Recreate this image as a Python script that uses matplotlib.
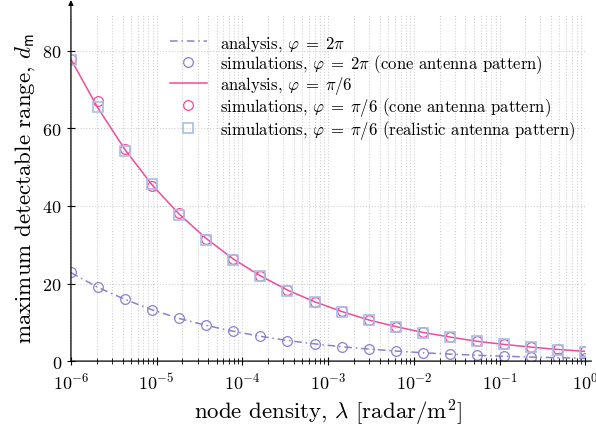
import numpy as np
import matplotlib
matplotlib.use("Agg")
import matplotlib.pyplot as plt
from matplotlib.ticker import LogLocator, NullFormatter

plt.rcParams['font.family'] = 'serif'
plt.rcParams['font.serif'] = ['cmr10', 'DejaVu Serif']
plt.rcParams['mathtext.fontset'] = 'cm'
plt.rcParams['axes.unicode_minus'] = False
plt.rcParams['axes.formatter.use_mathtext'] = True

# node density sample points
lam = [1.0e-6, 2.07e-6, 4.28e-6, 8.86e-6, 1.83e-5, 3.79e-5, 7.85e-5, 1.62e-4, 3.36e-4, 6.95e-4,
       1.44e-3, 2.98e-3, 6.16e-3, 1.27e-2, 2.64e-2, 5.46e-2, 0.113, 0.234, 0.483, 1.0]

# phi = 2pi
ana_2pi = [22.8, 19.0, 15.9, 13.2, 11.0, 9.2, 7.7, 6.4, 5.3, 4.45,
           3.7, 3.1, 2.6, 2.15, 1.8, 1.5, 1.25, 1.04, 0.87, 0.72]
sim_2pi = [22.9, 19.0, 15.9, 13.2, 11.0, 9.3, 7.7, 6.4, 5.3, 4.5,
           3.7, 3.1, 2.6, 2.2, 1.8, 1.5, 1.3, 1.05, 0.9, 0.75]

# phi = pi/6
ana_pi6 = [77.8, 65.2, 54.5, 45.4, 37.9, 31.6, 26.3, 22.0, 18.3, 15.3,
           12.8, 10.6, 8.9, 7.4, 6.2, 5.1, 4.3, 3.6, 3.0, 2.5]
sim_pi6_cone = [78.0, 67.0, 54.8, 45.2, 38.2, 31.6, 26.2, 22.0, 18.4, 15.3,
                12.8, 10.7, 8.9, 7.4, 6.2, 5.2, 4.3, 3.6, 3.0, 2.5]
sim_pi6_real = [77.5, 65.5, 54.2, 45.6, 37.6, 31.3, 26.0, 21.9, 18.2, 15.2,
                12.7, 10.6, 8.8, 7.3, 6.1, 5.1, 4.3, 3.6, 2.9, 2.4]

c_blue = '#8a82cc'
c_pink = '#ee4c9c'
c_sq = '#a9bfe8'

fig = plt.figure(figsize=(5.96, 4.27), dpi=100)
ax = fig.add_axes([0.119, 0.152, 0.863, 0.813])

ax.plot(lam, ana_2pi, color=c_blue, lw=1.1, ls=(0, (5, 2.5, 1, 2.5)),
        label=r'analysis, $\varphi\;=\;2\pi$')
ax.plot(lam, sim_2pi, ls='none', marker='o', ms=7, mfc='none', mec=c_blue, mew=0.9,
        label=r'simulations, $\varphi\;=\;2\pi$ (cone antenna pattern)')
ax.plot(lam, ana_pi6, color=c_pink, lw=1.1,
        label=r'analysis, $\varphi\;=\;\pi/6$')
ax.plot(lam, sim_pi6_cone, ls='none', marker='o', ms=7, mfc='none', mec=c_pink, mew=0.9,
        label=r'simulations, $\varphi\;=\;\pi/6$ (cone antenna pattern)')
ax.plot(lam, sim_pi6_real, ls='none', marker='s', ms=7, mfc='none', mec=c_sq, mew=1.2,
        label=r'simulations, $\varphi\;=\;\pi/6$ (realistic antenna pattern)')

ax.set_xscale('log')
ax.set_xlim(1e-6, 1.0)
ax.set_ylim(0, 89.5)
ax.set_yticks([0, 20, 40, 60, 80])
ax.xaxis.set_major_locator(LogLocator(base=10, numticks=10))
ax.xaxis.set_minor_locator(LogLocator(base=10, subs=np.arange(2, 10), numticks=20))
ax.xaxis.set_minor_formatter(NullFormatter())

ax.grid(True, which='major', color='#d0d0d0', ls=':', lw=0.8)
ax.grid(True, which='minor', axis='x', color='#d0d0d0', ls=':', lw=0.8)

for s in ['top', 'right', 'left', 'bottom']:
    ax.spines[s].set_visible(False)
ax.annotate('', xy=(0, 1.04), xytext=(0, 0), xycoords='axes fraction',
            arrowprops=dict(arrowstyle='-|>', color='black', lw=0.9,
                            shrinkA=0, shrinkB=0, mutation_scale=7))
ax.annotate('', xy=(1.012, 0), xytext=(0, 0), xycoords='axes fraction',
            arrowprops=dict(arrowstyle='-', color='black', lw=0.9,
                            shrinkA=0, shrinkB=0))

ax.tick_params(which='major', direction='inout', length=6, width=0.8, labelsize=13)
ax.tick_params(which='minor', direction='inout', length=4, width=0.6)
ax.tick_params(axis='x', pad=4)

ax.set_xlabel(r'node density, $\lambda$ [radar/m$^2$]', fontsize=16.5)
ax.set_ylabel(r'maximum detectable range, $d_{\mathsf{m}}$', fontsize=16.5)

ax.legend(loc='upper right', bbox_to_anchor=(1.0, 0.975), frameon=False, fontsize=12,
          handlelength=2.2, labelspacing=-0.04, borderaxespad=0.2)

fig.savefig('out.png', dpi=100)
